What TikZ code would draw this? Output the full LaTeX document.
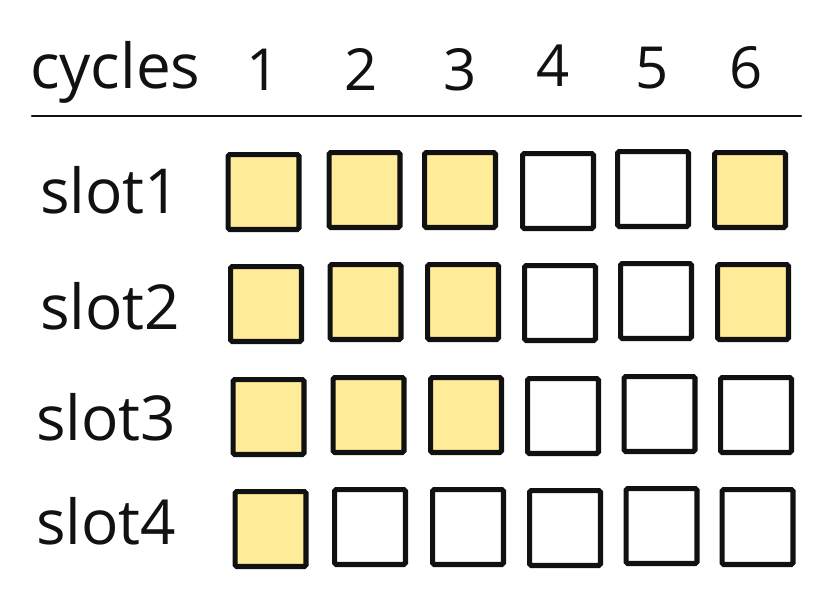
\documentclass[tikz,border=0pt]{standalone}
\usepackage{fontspec}
\setmainfont{Open Sans}
\definecolor{ink}{HTML}{111111}
\definecolor{fillc}{HTML}{FFEC99}
\begin{document}
\begin{tikzpicture}[x=1pt,y=-1pt,
  cell/.style={draw=ink,line width=5.2pt,minimum width=70.8pt,minimum height=74.8pt,inner sep=0pt,rounded corners=1.5pt},
  on/.style={cell,fill=fillc},
  off/.style={cell,fill=white},
  lbl/.style={font=\fontsize{62}{70}\selectfont,text=ink,inner sep=0pt,anchor=base west},
  num/.style={font=\fontsize{58}{70}\selectfont,text=ink,inner sep=0pt,anchor=base}]
\useasboundingbox[fill=white] (0,0) rectangle (825,597);
% header
\node[lbl] (cyc) at (30,88) {cycles};
\node[num] (n1) at (263,90) {1};
\node[num] (n2) at (361,90) {2};
\node[num] (n3) at (460,90) {3};
\node[num] (n4) at (553,86) {4};
\node[num] (n5) at (652,88) {5};
\node[num] (n6) at (746,88) {6};
\coordinate (hl) at (32,116);
\coordinate (hr) at (801,116);
\draw[ink,line width=2.5pt,line cap=round] (hl) -- (hr);
% row labels
\node[lbl] (s1) at (40,213) {slot1};
\node[lbl] (s2) at (40,329) {slot2};
\node[lbl] (s3) at (36,440) {slot3};
\node[lbl] (s4) at (36,544) {slot4};
% row 1
\node[on]  (b11) at (263.5,192) {};
\node[on]  (b12) at (364.5,190) {};
\node[on]  (b13) at (460,190) {};
\node[off] (b14) at (558,191) {};
\node[off] (b15) at (653,189) {};
\node[on]  (b16) at (750,190) {};
% row 2
\node[on]  (b21) at (266,304) {};
\node[on]  (b22) at (365.5,302) {};
\node[on]  (b23) at (463,302) {};
\node[off] (b24) at (560,303) {};
\node[off] (b25) at (656,301) {};
\node[on]  (b26) at (753,302) {};
% row 3
\node[on]  (b31) at (268.5,417) {};
\node[on]  (b32) at (368.5,415) {};
\node[on]  (b33) at (466,415) {};
\node[off] (b34) at (563,416) {};
\node[off] (b35) at (659.5,414) {};
\node[off] (b36) at (756,415) {};
% row 4
\node[on]  (b41) at (270.5,529) {};
\node[off] (b42) at (370,527) {};
\node[off] (b43) at (468,527) {};
\node[off] (b44) at (565,528) {};
\node[off] (b45) at (661.5,526) {};
\node[off] (b46) at (757.5,527) {};
\end{tikzpicture}
\end{document}
